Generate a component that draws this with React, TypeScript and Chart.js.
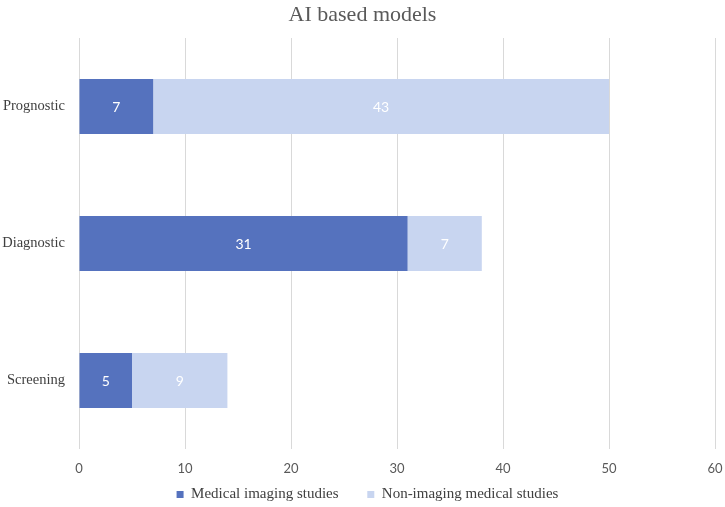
import React, { useEffect, useRef } from "react";
import { Chart, registerables } from "chart.js";

Chart.register(...registerables);

const categories = ["Prognostic", "Diagnostic", "Screening"];
const imagingValues = [7, 31, 5];
const nonImagingValues = [43, 7, 9];
const seriesNames = ["Medical imaging studies", "Non-imaging medical studies"];
const titleText = "AI based models";

const SERIF = "'Liberation Serif', 'Times New Roman', serif";
const SANS = "Lato, 'Open Sans', sans-serif";

const barLabelPlugin = {
  id: "barLabels",
  afterLayout(chart: any) {
    if (chart.legend) {
      chart.legend.left += 10;
      chart.legend.right += 10;
    }
    if (chart.titleBlock) {
      chart.titleBlock.left += 5;
      chart.titleBlock.right += 5;
    }
  },
  afterDatasetsDraw(chart: any) {
    const ctx = chart.ctx;
    ctx.save();
    ctx.font = "14px " + SANS;
    ctx.fillStyle = "#ffffff";
    ctx.textAlign = "center";
    ctx.textBaseline = "middle";
    chart.data.datasets.forEach((ds: any, di: number) => {
      const meta = chart.getDatasetMeta(di);
      meta.data.forEach((bar: any, i: number) => {
        const v = ds.data[i];
        const cx = (bar.x + bar.base) / 2;
        ctx.fillText(String(v), cx, bar.y + 1);
      });
    });
    ctx.restore();
  },
};

export default function App() {
  const ref = useRef<HTMLCanvasElement | null>(null);
  useEffect(() => {
    if (!ref.current) return;
    const chart = new Chart(ref.current, {
      type: "bar",
      data: {
        labels: categories,
        datasets: [
          {
            label: seriesNames[0],
            data: imagingValues,
            backgroundColor: "#5572BE",
            categoryPercentage: 1,
            barPercentage: 0.4,
          },
          {
            label: seriesNames[1],
            data: nonImagingValues,
            backgroundColor: "#C8D5F0",
            categoryPercentage: 1,
            barPercentage: 0.4,
          },
        ],
      },
      options: {
        indexAxis: "y",
        animation: false,
        responsive: false,
        maintainAspectRatio: false,
        layout: { padding: { left: 0, right: 10, top: 0, bottom: -5 } },
        scales: {
          x: {
            stacked: true,
            min: 0,
            max: 60,
            ticks: {
              stepSize: 10,
              color: "#595959",
              font: { family: SANS, size: 13 },
              padding: 12,
            },
            grid: { color: "#d9d9d9", drawTicks: false },
            border: { display: false },
            afterFit: (s: any) => {
              s.height = 28;
              s.paddingRight = 0;
              s.paddingLeft = 0;
            },
          },
          y: {
            stacked: true,
            ticks: {
              color: "#404040",
              font: { family: SERIF, size: 14.5 },
              padding: 14,
            },
            grid: { display: false, drawTicks: false },
            border: { display: false },
            afterFit: (s: any) => {
              s.width = 79;
            },
          },
        },
        plugins: {
          title: {
            display: true,
            text: titleText,
            color: "#595959",
            font: { family: SERIF, size: 22, weight: "normal" },
            padding: { top: 2, bottom: 9.6 },
          },
          legend: {
            position: "bottom",
            labels: {
              color: "#404040",
              font: { family: SERIF, size: 15 },
              boxWidth: 7,
              boxHeight: 7,
              padding: 10,
              generateLabels: (chart: any) => {
                const base = Chart.defaults.plugins.legend.labels.generateLabels(chart);
                return base.map((item: any, i: number) =>
                  i === 0 ? { ...item, text: item.text + "     " } : item
                );
              },
            },
          },
          tooltip: { enabled: false },
        },
      },
      plugins: [barLabelPlugin],
    });
    return () => chart.destroy();
  }, []);
  return (
    <div style={{ position: "absolute", left: 0, top: 0, width: 725, height: 507, background: "#fff" }}>
      <canvas ref={ref} width={725} height={507} />
    </div>
  );
}
